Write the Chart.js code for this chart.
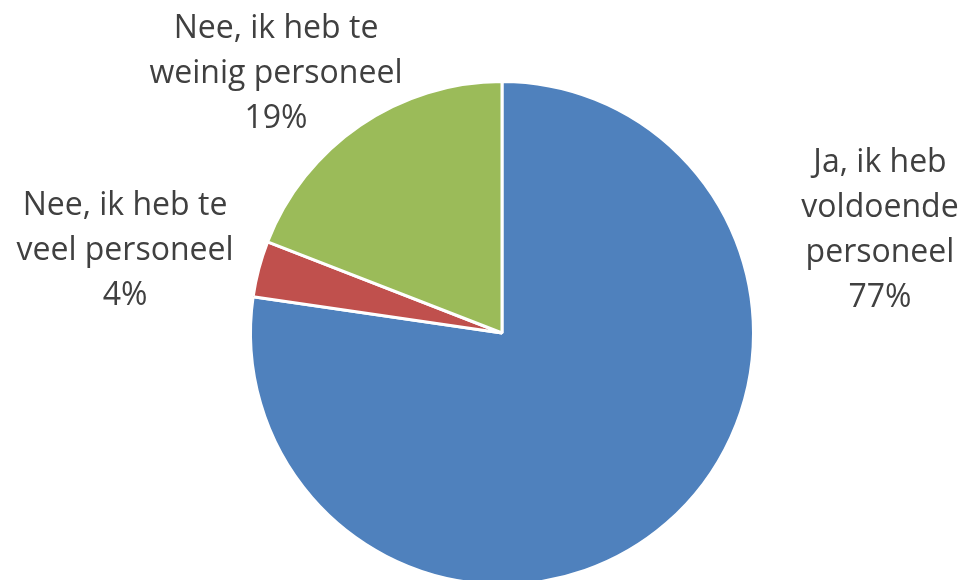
<!DOCTYPE html>
<html>
<head>
<meta charset="utf-8">
<script src="https://cdn.jsdelivr.net/npm/chart.js@4.4.0/dist/chart.umd.min.js"></script>
<style>
  html, body { margin: 0; padding: 0; background: #fff; overflow: hidden; }
  #wrap { position: relative; width: 965px; height: 600px; }
</style>
</head>
<body>
<div id="wrap"><canvas id="pieChart"></canvas></div>
<script>
const labels = [
    ['Ja, ik heb', 'voldoende', 'personeel'],
    ['Nee, ik heb te', 'veel personeel'],
    ['Nee, ik heb te', 'weinig personeel']
];
const values = [77.3, 3.6, 19.1];
const percentLabels = ['77%', '4%', '19%'];
const colors = ['#4F81BD', '#C0504D', '#9BBB59'];

// where each label block sits (centre x, first line y)
const labelPos = [
    { x: 880, y: 163 },
    { x: 125, y: 206 },
    { x: 276, y: 29 }
];

const outsideLabels = {
    id: 'outsideLabels',
    afterDraw(chart) {
        const ctx = chart.ctx;
        ctx.save();
        ctx.fillStyle = '#404040';
        ctx.font = '32px "Open Sans"';
        ctx.textAlign = 'center';
        ctx.textBaseline = 'middle';
        labels.forEach((lines, i) => {
            const p = labelPos[i];
            const all = lines.concat([percentLabels[i]]);
            all.forEach((line, j) => {
                ctx.fillText(line, p.x, p.y + j * 45);
            });
        });
        ctx.restore();
    }
};

document.addEventListener('DOMContentLoaded', () => {
    const ctx = document.getElementById('pieChart').getContext('2d');
    new Chart(ctx, {
        type: 'pie',
        data: {
            labels: labels.map(l => l.join(' ')),
            datasets: [{
                data: values,
                backgroundColor: colors,
                borderColor: '#ffffff',
                borderWidth: 3
            }]
        },
        options: {
            responsive: true,
            maintainAspectRatio: false,
            animation: false,
            layout: { padding: { top: 80, bottom: 14, left: 249, right: 210 } },
            plugins: { legend: { display: false }, tooltip: { enabled: false } }
        },
        plugins: [outsideLabels]
    });
});
</script>
</body>
</html>
